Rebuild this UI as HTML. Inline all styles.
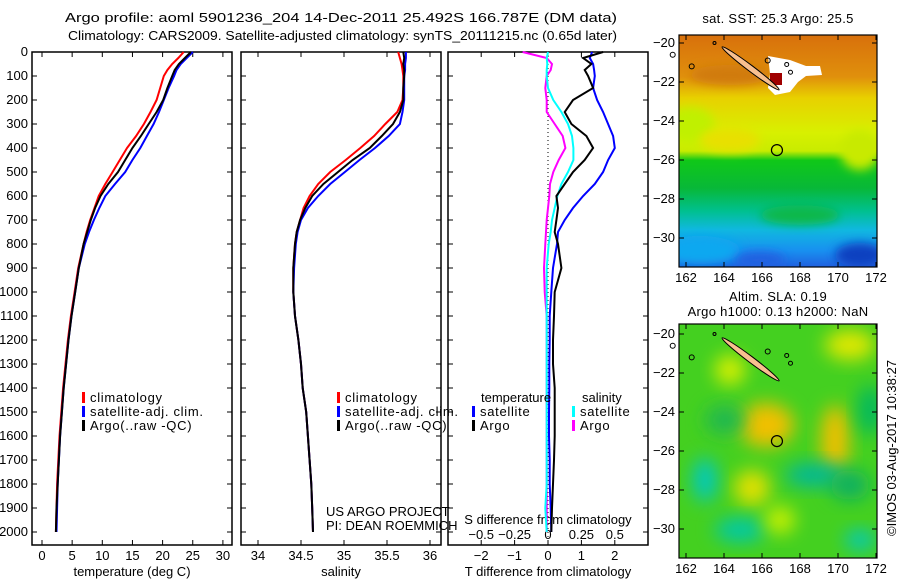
<!DOCTYPE html>
<html><head><meta charset="utf-8"><style>
body{margin:0;background:#fff;}
svg{display:block;font-family:"Liberation Sans",sans-serif;}
text{font-size:13px;fill:#000;}
text.lg{letter-spacing:0.7px;}
text.tk{font-size:13px;}
</style></head><body>
<svg id="chart" width="900" height="580" viewBox="0 0 900 580" xmlns="http://www.w3.org/2000/svg">
<defs>
<filter id="blur" x="-50%" y="-50%" width="200%" height="200%"><feGaussianBlur stdDeviation="9"/></filter>
<filter id="blur2" x="-50%" y="-50%" width="200%" height="200%"><feGaussianBlur stdDeviation="5"/></filter>
<linearGradient id="sstg" x1="0" y1="0" x2="0" y2="1">
<stop offset="0" stop-color="#d8700c"/><stop offset="0.18" stop-color="#e0900c"/><stop offset="0.27" stop-color="#e8d000"/>
<stop offset="0.42" stop-color="#d8f000"/><stop offset="0.5" stop-color="#c8ec00"/><stop offset="0.54" stop-color="#10c818"/>
<stop offset="0.66" stop-color="#08b838"/><stop offset="0.76" stop-color="#00c090"/><stop offset="0.84" stop-color="#10b8e0"/>
<stop offset="0.93" stop-color="#1890f0"/><stop offset="1" stop-color="#2060e0"/></linearGradient>
<clipPath id="c1"><rect x="679" y="35" width="198" height="232"/></clipPath>
<clipPath id="c2"><rect x="679" y="324" width="198" height="234"/></clipPath>
</defs>
<text x="65" y="22" textLength="552" lengthAdjust="spacingAndGlyphs">Argo profile: aoml 5901236_204 14-Dec-2011 25.492S 166.787E (DM data)</text>
<text x="68" y="40" textLength="549" lengthAdjust="spacingAndGlyphs">Climatology: CARS2009. Satellite-adjusted climatology: synTS_20111215.nc (0.65d later)</text>
<g id="p1"></g>
<g id="p2"></g>
<g id="p3"></g>
<g id="m1"></g>
<g id="m2"></g>
<text x="326" y="516">US ARGO PROJECT</text>
<text x="326" y="530">PI: DEAN ROEMMICH</text>
<text transform="translate(896,448) rotate(-90)" text-anchor="middle" textLength="176" lengthAdjust="spacingAndGlyphs">©IMOS 03-Aug-2017 10:38:27</text>
</svg>
<script>
const depths=[0,25,50,75,100,150,200,250,300,350,400,450,500,550,600,650,700,750,800,900,1000,1100,1200,1300,1400,1500,1600,1700,1800,1900,2000];
const tClim=[23.5,22.6,21.6,20.8,20.2,19.6,19.0,18.0,16.9,15.6,14.1,12.9,11.7,10.5,9.4,8.7,8.0,7.4,6.9,6.0,5.4,4.8,4.3,3.9,3.5,3.2,2.9,2.7,2.5,2.4,2.3];
const tSat=[25.0,24.0,23.0,22.3,21.9,21.0,20.2,19.4,18.5,17.4,16.3,15.0,13.8,12.1,10.5,9.5,8.6,7.8,7.1,6.1,5.5,4.9,4.4,4.0,3.6,3.3,3.0,2.8,2.6,2.5,2.4];
const tArgo=[24.7,23.7,22.7,22.0,21.6,20.8,20.1,19.0,17.7,16.4,15.0,13.8,12.6,11.0,9.7,8.8,8.1,7.5,6.9,6.1,5.5,4.9,4.4,4.0,3.6,3.3,3.0,2.8,2.6,2.4,2.3];
const sClim=[35.63,35.65,35.67,35.68,35.69,35.69,35.68,35.62,35.48,35.35,35.19,35.02,34.84,34.7,34.6,34.53,34.49,34.45,34.43,34.41,34.41,34.43,34.47,34.5,34.52,34.56,34.58,34.6,34.62,34.63,34.64];
const sSat=[35.72,35.72,35.71,35.71,35.70,35.70,35.70,35.68,35.65,35.52,35.36,35.18,35.01,34.84,34.70,34.58,34.5,34.46,34.44,34.42,34.41,34.43,34.47,34.5,34.52,34.56,34.58,34.6,34.62,34.63,34.64];
const sArgo=[35.69,35.70,35.69,35.70,35.70,35.69,35.69,35.65,35.57,35.44,35.30,35.1,34.93,34.76,34.63,34.55,34.49,34.45,34.43,34.41,34.41,34.43,34.47,34.5,34.52,34.56,34.58,34.6,34.62,34.63,34.64];
const dTsat=[1.32,1.25,1.35,1.38,1.4,1.35,1.47,1.65,1.8,1.95,2.0,1.8,1.65,1.4,1.05,0.75,0.5,0.3,0.27,0.15,0.1,0.05,0.05,0.04,0.04,0.03,0.03,0.05,0.05,0.08,0.1];
const dTargo=[1.65,1.05,1.3,1.1,1.2,1.35,0.75,0.5,0.7,1.15,1.35,1.1,0.75,0.5,0.25,0.3,0.25,0.2,0.3,0.4,0.2,0.18,0.15,0.15,0.2,0.2,0.2,0.18,0.15,0.12,0.1];
const dSsat=[0,-0.01,-0.005,-0.01,-0.01,0,0.04,0.1,0.15,0.18,0.19,0.19,0.15,0.1,0.07,0.05,0.03,0.02,0.005,-0.01,-0.01,-0.01,-0.01,-0.01,-0.01,-0.01,-0.01,-0.01,-0.01,-0.02,-0.01];
const dSargo=[-0.19,-0.01,0.03,0.02,-0.01,-0.02,-0.01,-0.01,0.05,0.11,0.13,0.08,0.04,0.015,0.01,0.0,-0.01,-0.015,-0.02,-0.03,-0.025,-0.01,-0.01,-0.01,-0.01,-0.01,-0.01,-0.01,-0.01,-0.01,-0.01];
const depthTicks=[0,100,200,300,400,500,600,700,800,900,1000,1100,1200,1300,1400,1500,1600,1700,1800,1900,2000];
const tTicks=[0,5,10,15,20,25,30];
const sTicks=[34,34.5,35,35.5,36];
const dTTicks=[-2,-1,0,1,2];
const dSTicks=[-0.5,-0.25,0,0.25,0.5];
const lonTicks=[162,164,166,168,170,172];
const latTicks=[-20,-22,-24,-26,-28,-30];

const NS="http://www.w3.org/2000/svg";
function mk(tag,attrs,parent){const e=document.createElementNS(NS,tag);for(const k in attrs)e.setAttribute(k,attrs[k]);parent.appendChild(e);return e;}
const yD=d=>52+d*0.24;
const PT=545;
function frame(g,x0,x1){
  const r=mk('rect',{x:x0,y:52,width:x1-x0,height:PT-52,fill:'none',stroke:'#000','stroke-width':1.5},g);
  
  
  depthTicks.forEach(d=>{
    mk('line',{x1:x0,x2:x0+5,y1:yD(d),y2:yD(d),stroke:'#000'},g);
    mk('line',{x1:x1-5,x2:x1,y1:yD(d),y2:yD(d),stroke:'#000'},g);
  });
}
function xticks(g,ticks,fx,ly,labels){
  ticks.forEach((t,i)=>{const x=fx(t);
    mk('line',{x1:x,x2:x,y1:52,y2:57,stroke:'#000'},g);
    mk('line',{x1:x,x2:x,y1:PT-5,y2:PT,stroke:'#000'},g);
    const tx=mk('text',{x:x,y:ly,'text-anchor':'middle'},g);tx.textContent=labels?labels[i]:String(t).replace('-','\u2212');
    
    
  });
}
function line(g,vals,fx,color,name,w){
  const pts=vals.map((v,i)=>fx(v).toFixed(1)+','+yD(depths[i]).toFixed(1)).join(' ');
  const p=mk('polyline',{points:pts,fill:'none',stroke:color,'stroke-width':w||2},g);
  
  
}
function legend(g,x,y,color,label){
  mk('rect',{x:x,y:y-10,width:3,height:11,fill:color},g);
  const t=mk('text',{x:x+8,y:y,'class':'lg'},g);t.textContent=label;
  
  
}
// panel 1
const p1=document.getElementById('p1');
const fT=t=>42+t*6.03;
frame(p1,32,232);
depthTicks.forEach(d=>{const t=mk('text',{x:28,y:yD(d)+4,'text-anchor':'end'},p1);t.textContent=d;
  
  });
xticks(p1,tTicks,fT,560);
const xl1=mk('text',{x:132,y:576,'text-anchor':'middle'},p1);xl1.textContent='temperature (deg C)';


line(p1,tClim,fT,'#f00','temp-climatology-line');
line(p1,tSat,fT,'#00f','temp-satellite-line');
line(p1,tArgo,fT,'#000','temp-argo-line');
legend(p1,82,402,'#f00','climatology');legend(p1,82,416,'#00f','satellite-adj. clim.');legend(p1,82,430,'#000','Argo(..raw -QC)');
// panel 2
const p2=document.getElementById('p2');
const fS=s=>258+(s-34)*86;
frame(p2,241,441);
xticks(p2,sTicks,fS,560,['34','34.5','35','35.5','36']);
const xl2=mk('text',{x:341,y:576,'text-anchor':'middle'},p2);xl2.textContent='salinity';


line(p2,sClim,fS,'#f00','sal-climatology-line');
line(p2,sSat,fS,'#00f','sal-satellite-line');
line(p2,sArgo,fS,'#000','sal-argo-line');
legend(p2,337,402,'#f00','climatology');legend(p2,337,416,'#00f','satellite-adj. clim.');legend(p2,337,430,'#000','Argo(..raw -QC)');
// panel 3
const p3=document.getElementById('p3');
const fdT=v=>548+v*33.4;
const fdS=v=>548+v*133.6;
frame(p3,448,648);
dTTicks.forEach(t=>{const x=fdT(t);mk('line',{x1:x,x2:x,y1:52,y2:57,stroke:'#000'},p3);mk('line',{x1:x,x2:x,y1:PT-5,y2:PT,stroke:'#000'},p3);
  const tx=mk('text',{x:x,y:560,'text-anchor':'middle'},p3);tx.textContent=String(t).replace('-','\u2212');
  
  });
dSTicks.forEach(t=>{const tx=mk('text',{x:fdS(t),y:539,'text-anchor':'middle'},p3);tx.textContent=String(t).replace('-','\u2212');
  
  });
const st=mk('text',{x:548,y:524,'text-anchor':'middle'},p3);st.textContent='S difference from climatology';


const tt=mk('text',{x:548,y:576,'text-anchor':'middle'},p3);tt.textContent='T difference from climatology';


mk('line',{x1:548,x2:548,y1:52,y2:PT,stroke:'#000','stroke-dasharray':'1,3'},p3);
line(p3,dSargo,fdS,'#f0f','sal-diff-argo-line');
line(p3,dSsat,fdS,'#0ff','sal-diff-satellite-line');
line(p3,dTsat,fdT,'#00f','temp-diff-satellite-line');
line(p3,dTargo,fdT,'#000','temp-diff-argo-line');
const lt=mk('text',{x:481,y:402},p3);lt.textContent='temperature';


const ls=mk('text',{x:582,y:402},p3);ls.textContent='salinity';


legend(p3,472,416,'#00f','satellite');legend(p3,472,430,'#000','Argo');
legend(p3,572,416,'#0ff','satellite');legend(p3,572,430,'#f0f','Argo');
// maps
const fLon=(lon)=>686+(lon-162)*19;
function mapAxes(g,top,h,y0,titleLines,titleY){
  mk('rect',{x:679,y:top,width:198,height:h,fill:'none',stroke:'#000','stroke-width':1.2},g);
  const fLat=lat=>y0+(-20-lat)*19.5;
  latTicks.forEach(l=>{const y=fLat(l);mk('line',{x1:679,x2:684,y1:y,y2:y,stroke:'#000'},g);mk('line',{x1:872,x2:877,y1:y,y2:y,stroke:'#000'},g);
    const t=mk('text',{x:675,y:y+4,'text-anchor':'end'},g);t.textContent=String(l).replace('-','\u2212');
    
    });
  lonTicks.forEach(l=>{const x=fLon(l);mk('line',{x1:x,x2:x,y1:top,y2:top+5,stroke:'#000'},g);mk('line',{x1:x,x2:x,y1:top+h-5,y2:top+h,stroke:'#000'},g);
    const t=mk('text',{x:x,y:top+h+15,'text-anchor':'middle'},g);t.textContent=l;
    
    });
  titleLines.forEach((s,i)=>{const t=mk('text',{x:778,y:titleY+i*15,'text-anchor':'middle','style':'letter-spacing:0.3px'},g);t.textContent=s;
    
    });
  return fLat;
}
function island(g,fLat){
  const x1=fLon(163.9),y1=fLat(-20.2),x2=fLon(166.9),y2=fLat(-22.4);
  const cx=(x1+x2)/2,cy=(y1+y2)/2,len=Math.hypot(x2-x1,y2-y1)/2,ang=Math.atan2(y2-y1,x2-x1)*180/Math.PI;
  const e=mk('ellipse',{cx:cx,cy:cy,rx:len,ry:3,fill:'#f8c090',stroke:'#000','stroke-width':1},g);
  e.setAttribute('transform',`rotate(${ang} ${cx} ${cy})`);
  
  
  [[166.3,-20.9,2.5],[167.3,-21.1,2],[167.5,-21.5,2],[161.3,-20.6,2.5],[162.3,-21.2,2.5],[163.5,-20.0,1.5]].forEach(a=>
    mk('circle',{cx:fLon(a[0]),cy:fLat(a[1]),r:a[2],fill:'none',stroke:'#000'},g));
  const c=mk('circle',{cx:fLon(166.787),cy:fLat(-25.492),r:5.5,fill:'none',stroke:'#000','stroke-width':1.2},g);
  
  
}
const m1=document.getElementById('m1');
const g1=mk('g',{'clip-path':'url(#c1)'},m1);
mk('rect',{x:679,y:35,width:198,height:232,fill:'url(#sstg)'},g1);
[[690,125,25,18,'#c0f000'],[730,140,30,12,'#e8e000'],[860,150,20,20,'#c8ea00'],[700,250,40,14,'#10a8f0'],[860,255,25,12,'#1040c0'],[760,260,25,8,'#2060e0'],[730,75,40,10,'#d07a10'],[800,215,40,10,'#08b848']].forEach(b=>
  mk('ellipse',{cx:b[0],cy:b[1],rx:b[2],ry:b[3],fill:b[4],filter:'url(#blur2)'},g1));
mk('path',{d:'M768 56 L790 60 L806 66 L820 66 L822 75 L806 76 L798 82 L790 92 L775 95 L768 88 L770 74 Z',fill:'#fff'},g1);
mk('rect',{x:770,y:73,width:12,height:12,fill:'#a00000'},g1);
const fLat1=mapAxes(m1,35,232,43,['sat. SST: 25.3 Argo: 25.5'],23);
island(m1,fLat1);
const m2=document.getElementById('m2');
const g2=mk('g',{'clip-path':'url(#c2)'},m2);
mk('rect',{x:679,y:324,width:198,height:234,fill:'#44d020'},g2);
[[766,425,28,22,'#f0c000'],[835,440,14,35,'#f0c000'],[752,488,18,18,'#e0e000'],[850,345,25,15,'#e0e800'],[730,370,15,15,'#d8f000'],[870,410,12,25,'#00b860'],[705,480,12,22,'#00c8c0'],[740,530,25,12,'#00c8a8'],[815,475,30,12,'#00b898'],[860,540,15,10,'#00c8c0'],[725,420,20,15,'#20b850'],[850,485,20,15,'#10b060'],[780,520,15,14,'#c8f000']].forEach(b=>
  mk('ellipse',{cx:b[0],cy:b[1],rx:b[2],ry:b[3],fill:b[4],filter:'url(#blur)'},g2));
const fLat2=mapAxes(m2,324,234,334,['Altim. SLA: 0.19','Argo h1000: 0.13 h2000: NaN'],301);
island(m2,fLat2);
</script>
</body></html>
